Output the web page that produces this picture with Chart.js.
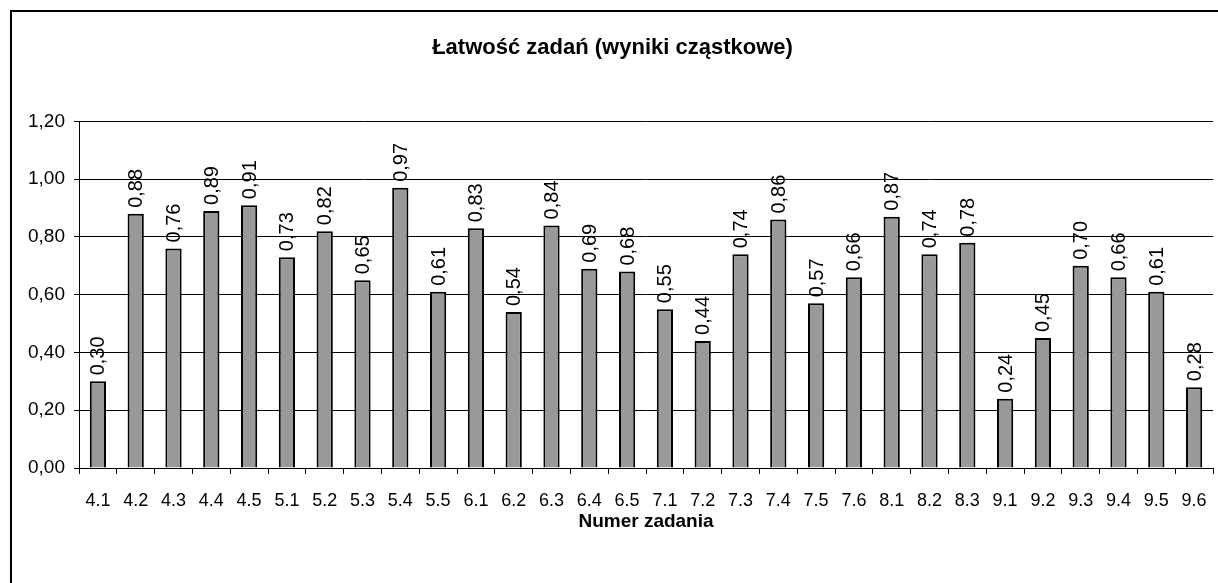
<!DOCTYPE html>
<html>
<head>
<meta charset="utf-8">
<script src="https://cdn.jsdelivr.net/npm/chart.js@4.4.1/dist/chart.umd.min.js"></script>
<style>
  html, body { margin: 0; padding: 0; background: #fff; overflow: hidden; }
  #wrap { position: relative; width: 1218px; height: 583px; }
  #frame { position: absolute; left: 10px; top: 10px; width: 1300px; height: 700px; border: 2px solid #000; box-sizing: border-box; pointer-events: none; }
  canvas { position: absolute; left: 0; top: 0; }
</style>
</head>
<body>
<div id="wrap">
  <canvas id="chart" width="1218" height="583"></canvas>
  <div id="frame"></div>
</div>
<script>
// Numery zadań
const zadania = [
  "4.1", "4.2", "4.3", "4.4", "4.5",
  "5.1", "5.2", "5.3", "5.4", "5.5",
  "6.1", "6.2", "6.3", "6.4", "6.5",
  "7.1", "7.2", "7.3", "7.4", "7.5", "7.6",
  "8.1", "8.2", "8.3",
  "9.1", "9.2", "9.3", "9.4", "9.5", "9.6"
];

// Łatwość
const latwosc = [
  0.30, 0.88, 0.76, 0.89, 0.91,
  0.73, 0.82, 0.65, 0.97, 0.61,
  0.83, 0.54, 0.84, 0.69, 0.68,
  0.55, 0.44, 0.74, 0.86, 0.57, 0.66,
  0.87, 0.74, 0.78,
  0.24, 0.45, 0.70, 0.66, 0.61, 0.28
];

const FONT = "'Liberation Sans', Arial, sans-serif";
const fmt = v => Number(v).toFixed(2).replace(".", ",");

// etykiety nad słupkami, obrócone o 90°
const barLabels = {
  id: "barLabels",
  afterDatasetsDraw(chart) {
    const ctx = chart.ctx;
    const meta = chart.getDatasetMeta(0);
    ctx.save();
    ctx.font = "20px " + FONT;
    ctx.fillStyle = "#000";
    ctx.textAlign = "left";
    ctx.textBaseline = "middle";
    meta.data.forEach((bar, i) => {
      ctx.save();
      ctx.translate(bar.x + 1, bar.y - 6);
      ctx.rotate(-Math.PI / 2);
      ctx.fillText(fmt(latwosc[i]), 0, 0);
      ctx.restore();
    });
    ctx.restore();
  }
};

const ctx = document.getElementById("chart").getContext("2d");
new Chart(ctx, {
  type: "bar",
  data: {
    labels: zadania,
    datasets: [{
      data: latwosc,
      backgroundColor: "#999999",
      borderColor: "#000",
      borderWidth: 2,
      barPercentage: 0.43,
      categoryPercentage: 1.0
    }]
  },
  options: {
    responsive: false,
    animation: false,
    layout: { padding: { top: 12, left: 12, right: 5, bottom: 0 } },
    plugins: {
      legend: { display: false },
      tooltip: { enabled: false },
      title: {
        display: true,
        text: "Łatwość zadań (wyniki cząstkowe)",
        color: "#000",
        font: { family: FONT, size: 22, weight: "bold" },
        padding: { top: 23, bottom: 60 }
      }
    },
    scales: {
      x: {
        afterFit: s => { s.height = 115; s.paddingRight = 0; s.paddingLeft = 0; },
        grid: { drawOnChartArea: false, drawTicks: true, tickLength: 6, color: "#000", offset: true },
        border: { display: true, color: "#000", width: 1 },
        ticks: {
          color: "#000",
          padding: 16,
          maxRotation: 0,
          autoSkip: false,
          font: { family: FONT, size: 18 }
        },
        title: {
          display: true,
          text: "Numer zadania",
          color: "#000",
          font: { family: FONT, size: 19, weight: "bold" },
          padding: { top: 0, bottom: 50 }
        }
      },
      y: {
        min: 0,
        max: 1.2,
        afterFit: s => { s.width = 67; },
        grid: { color: "#000", lineWidth: 1, tickLength: 5, drawTicks: true },
        border: { display: true, color: "#000", width: 1 },
        ticks: {
          stepSize: 0.2,
          color: "#000",
          padding: 9,
          callback: v => fmt(v),
          font: { family: FONT, size: 19 }
        }
      }
    }
  },
  plugins: [barLabels]
});
</script>
</body>
</html>
